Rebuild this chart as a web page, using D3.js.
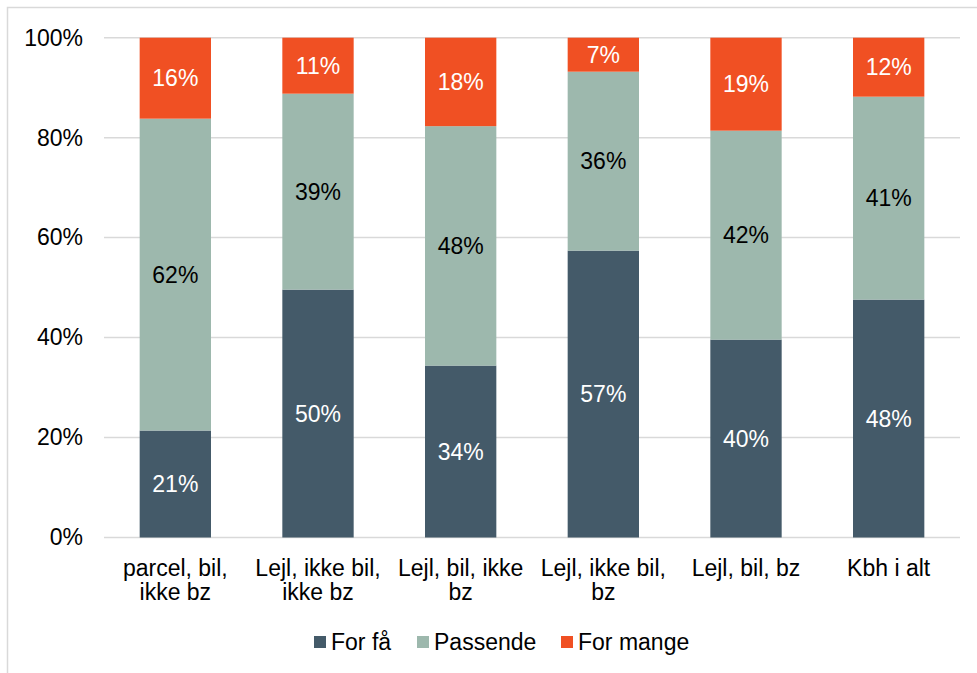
<!DOCTYPE html>
<html>
<head>
<meta charset="utf-8">
<script src="https://cdnjs.cloudflare.com/ajax/libs/d3/7.8.5/d3.min.js"></script>
<style>
  body { margin: 0; background: #fff; }
  text { font-family: "Liberation Sans", Arial, sans-serif; }
</style>
</head>
<body>
<div id="chart"></div>
<script>
var width = 977;
var height = 673;

// data (percent)
var categories = [
  ["parcel, bil,", "ikke bz"],
  ["Lejl, ikke bil,", "ikke bz"],
  ["Lejl, bil, ikke", "bz"],
  ["Lejl, ikke bil,", "bz"],
  ["Lejl, bil, bz"],
  ["Kbh i alt"]
];
var forFaa    = [21.4, 49.6, 34.4, 57.4, 39.6, 47.6];
var passende  = [62.4, 39.2, 47.9, 35.8, 41.8, 40.6];
var forMange  = [16.2, 11.2, 17.7, 6.8, 18.6, 11.8];
var seriesNames = ["For få", "Passende", "For mange"];
var yTicks = [0, 20, 40, 60, 80, 100];

var colors = ["#445A69", "#9DB8AD", "#F05023"];
var labelColors = ["#ffffff", "#000000", "#ffffff"];
var fontSize = "23px";

var svg = d3.select("#chart")
    .append("svg")
    .attr("width", width)
    .attr("height", height);

// chart frame (cropped at right/bottom)
svg.append("rect")
    .attr("x", 7.5)
    .attr("y", 7.5)
    .attr("width", 1000)
    .attr("height", 700)
    .attr("fill", "#fff")
    .attr("stroke", "#d9d9d9")
    .attr("stroke-width", 1.5);

var margin = {top: 37.7, left: 104, right: 17, bottom: 135.5};
var iwidth = width - margin.left - margin.right;
var iheight = height - margin.top - margin.bottom;

var g = svg.append("g")
    .attr("transform", "translate(" + margin.left + "," + margin.top + ")");

var x = d3.scaleBand()
    .domain(d3.range(categories.length))
    .range([0, iwidth])
    .paddingInner(0.5)
    .paddingOuter(0.25);

var y = d3.scaleLinear().domain([0, 100]).range([iheight, 0]);

// gridlines
g.selectAll(".grid")
    .data(yTicks)
    .enter().append("line")
    .attr("x1", 0)
    .attr("x2", iwidth)
    .attr("y1", function(d) { return y(d); })
    .attr("y2", function(d) { return y(d); })
    .attr("stroke", "#d9d9d9")
    .attr("stroke-width", 1.5);

// y axis labels
var yAxis = g.append("g")
    .attr("transform", "translate(-18,0)")
    .call(d3.axisLeft(y).tickValues(yTicks).tickSize(0).tickFormat(function(d) { return d + "%"; }));
yAxis.select(".domain").remove();
yAxis.selectAll("text")
    .style("font-size", fontSize)
    .attr("fill", "#000")
    .attr("font-family", "Liberation Sans, Arial, sans-serif");

// stacked data
var rows = categories.map(function(c, i) {
  return {i: i, "For få": forFaa[i], "Passende": passende[i], "For mange": forMange[i]};
});
var stacked = d3.stack().keys(seriesNames)(rows);

var layers = g.selectAll(".layer")
    .data(stacked)
    .enter().append("g")
    .attr("class", "layer")
    .attr("fill", function(d, i) { return colors[i]; });

layers.selectAll("rect")
    .data(function(d) { return d; })
    .enter().append("rect")
    .attr("x", function(d) { return x(d.data.i); })
    .attr("y", function(d) { return y(d[1]); })
    .attr("width", x.bandwidth())
    .attr("height", function(d) { return y(d[0]) - y(d[1]); });

stacked.forEach(function(s, si) {
  g.selectAll(".lbl" + si)
      .data(s)
      .enter().append("text")
      .attr("x", function(d) { return x(d.data.i) + x.bandwidth() / 2; })
      .attr("y", function(d) { return (y(d[0]) + y(d[1])) / 2; })
      .attr("dy", "0.35em")
      .attr("text-anchor", "middle")
      .style("font-size", fontSize)
      .attr("fill", labelColors[si])
      .text(function(d) { return Math.round(d[1] - d[0]) + "%"; });
});

// category labels
var cat = g.selectAll(".cat")
    .data(categories)
    .enter().append("text")
    .attr("text-anchor", "middle")
    .attr("x", function(d, i) { return x(i) + x.bandwidth() / 2; })
    .attr("y", iheight + 39)
    .style("font-size", fontSize)
    .attr("fill", "#000");
cat.selectAll("tspan")
    .data(function(d) { return d; })
    .enter().append("tspan")
    .attr("x", function() { return d3.select(this.parentNode).attr("x"); })
    .attr("dy", function(d, i) { return i === 0 ? 0 : 23.3; })
    .text(function(d) { return d; });

// legend
var legendX = [314, 417, 561];
seriesNames.forEach(function(name, i) {
  svg.append("rect")
      .attr("x", legendX[i])
      .attr("y", 636)
      .attr("width", 12)
      .attr("height", 12)
      .attr("fill", colors[i]);
  svg.append("text")
      .attr("x", legendX[i] + 17)
      .attr("y", 650)
      .style("font-size", fontSize)
      .attr("fill", "#000")
      .text(name);
});
</script>
</body>
</html>
